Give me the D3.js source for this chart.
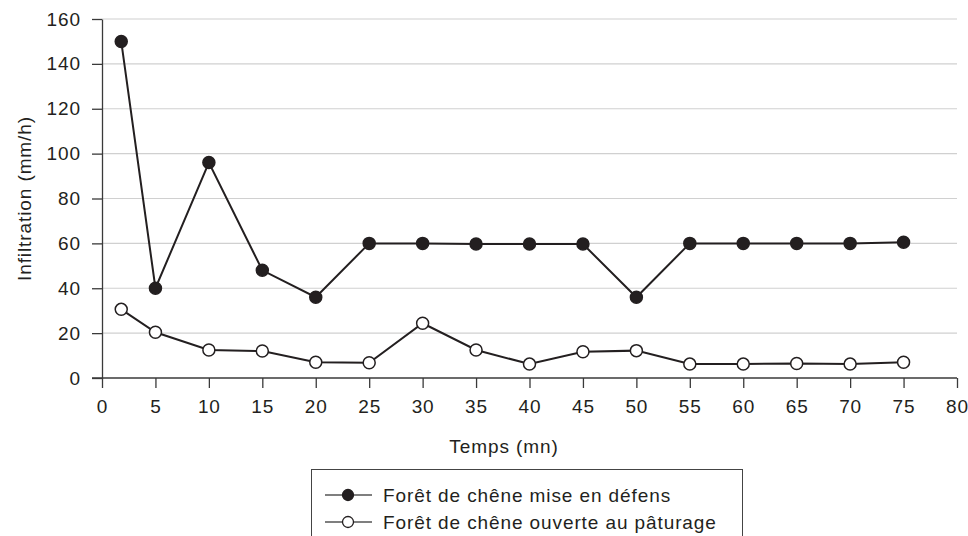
<!DOCTYPE html>
<html><head><meta charset="utf-8">
<script src="https://cdn.jsdelivr.net/npm/d3@7"></script>
<style>
body{margin:0;background:#fff;}
text{font-family:"Liberation Sans",Arial,Helvetica,sans-serif;fill:#231f20;}
</style></head>
<body>
<svg id="chart" width="968" height="536"></svg>
<script>
const times = [1.8, 5, 10, 15, 20, 25, 30, 35, 40, 45, 50, 55, 60, 65, 70, 75];
const defens = [150, 40, 96, 48, 36, 60, 60, 59.7, 59.7, 59.7, 36, 60, 60, 60, 60, 60.5];
const paturage = [30.6, 20.4, 12.5, 12, 7, 6.8, 24.4, 12.5, 6.2, 11.7, 12.2, 6.2, 6.2, 6.5, 6.2, 7];
const xTicks = [0,5,10,15,20,25,30,35,40,45,50,55,60,65,70,75,80];
const yTicks = [0,20,40,60,80,100,120,140,160];
const seriesNames = ["Forêt de chêne mise en défens", "Forêt de chêne ouverte au pâturage"];
const xTitle = "Temps (mn)";
const yTitle = "Infiltration (mm/h)";

const svg = d3.select("#chart");
const ink = "#231f20";
const x = d3.scaleLinear().domain([0,80]).range([102,957]);
const y = d3.scaleLinear().domain([0,160]).range([378,19]);
const fs = 19;
const ls = "0.9px";

// gridlines
svg.append("g").selectAll("line").data(yTicks.filter(d=>d>0)).join("line")
  .attr("x1",x(0)).attr("x2",x(80)).attr("y1",d=>y(d)).attr("y2",d=>y(d))
  .attr("stroke","#d0d0d0").attr("stroke-width",1.2);

// y axis
const yAxis = svg.append("g").attr("transform",`translate(${x(0)},0)`)
  .call(d3.axisLeft(y).tickValues(yTicks).tickSize(10).tickPadding(11).tickSizeOuter(0));
yAxis.select(".domain").attr("stroke","#3a3a3a").attr("stroke-width",1.3);
yAxis.selectAll(".tick line").attr("stroke","#3a3a3a").attr("stroke-width",1.3);
yAxis.selectAll("text").attr("font-size",fs).attr("font-family","Liberation Sans, Arial, sans-serif").attr("fill",ink).attr("letter-spacing",ls);

// x axis
const xAxis = svg.append("g").attr("transform",`translate(0,${y(0)})`)
  .call(d3.axisBottom(x).tickValues(xTicks).tickSize(10).tickPadding(12).tickSizeOuter(0));
xAxis.select(".domain").attr("d",`M92,0H${x(80)}`).attr("stroke","#3a3a3a").attr("stroke-width",1.3);
xAxis.selectAll(".tick line").attr("stroke","#3a3a3a").attr("stroke-width",1.3);
xAxis.selectAll("text").attr("font-size",fs).attr("font-family","Liberation Sans, Arial, sans-serif").attr("fill",ink).attr("letter-spacing",ls);

// titles
svg.append("text").attr("x",504).attr("y",453).attr("text-anchor","middle")
  .attr("font-size",fs).attr("letter-spacing",ls).text(xTitle);
svg.append("text").attr("transform","translate(31,198.5) rotate(-90)").attr("text-anchor","middle")
  .attr("font-size",fs).attr("letter-spacing",ls).text(yTitle);

// series
const line = d3.line().x((d,i)=>x(times[i])).y(d=>y(d));
function drawSeries(vals, filled){
  svg.append("path").datum(vals).attr("d",line).attr("fill","none")
    .attr("stroke",ink).attr("stroke-width",2);
  svg.append("g").selectAll("circle").data(vals).join("circle")
    .attr("cx",(d,i)=>x(times[i])).attr("cy",d=>y(d)).attr("r",6)
    .attr("fill",filled?ink:"#fff").attr("stroke",ink).attr("stroke-width",1.5);
}
drawSeries(paturage,false);
drawSeries(defens,true);

// legend
const lg = svg.append("g");
lg.append("rect").attr("x",311.5).attr("y",469.5).attr("width",431).attr("height",80)
  .attr("fill","#fff").attr("stroke","#444").attr("stroke-width",1);
seriesNames.forEach((name,i)=>{
  const cy = 495 + i*27;
  lg.append("line").attr("x1",325).attr("x2",372).attr("y1",cy).attr("y2",cy)
    .attr("stroke","#555").attr("stroke-width",1.5);
  lg.append("circle").attr("cx",348).attr("cy",cy).attr("r",5.5)
    .attr("fill",i===0?ink:"#fff").attr("stroke",ink).attr("stroke-width",1.3);
  lg.append("text").attr("x",383).attr("y",cy+7).attr("font-size",fs).attr("letter-spacing",ls).text(name);
});
</script>
</body></html>
